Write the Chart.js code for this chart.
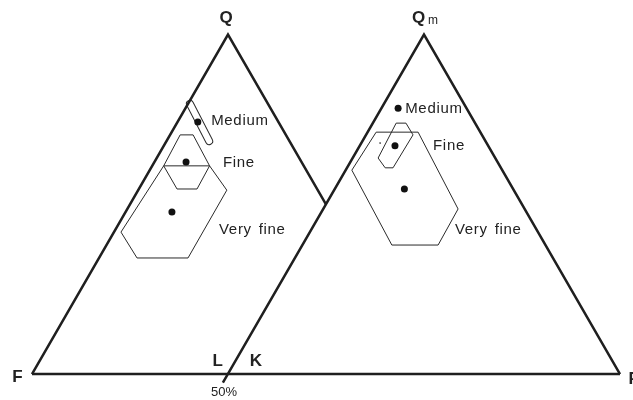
<!DOCTYPE html>
<html>
<head>
<meta charset="utf-8">
<script src="https://cdn.jsdelivr.net/npm/chart.js@4"></script>
<style>
  html, body { margin: 0; padding: 0; background: #fff; }
  #wrap { width: 633px; height: 400px; position: relative; }
</style>
</head>
<body>
<div id="wrap"><canvas id="tri"></canvas></div>
<script>
// ---- data (units: % of a triangle side, x along the base, y up) ----
// outlines of the two triangles: Q-F-L on the left, Qm-K-P on the right
const edgeQF = [[75, 43.3], [50, 86.6], [0, 0]];
const edgeQmKP = [[48.7, -2.2], [100, 86.6], [150, 0]];
const baseFP = [[0, 0], [150, 0]];

// left triangle (QFL) fields and means
const qflMediumAxis = [[40.3, 68.9], [45.2, 59.4]];
const qflFine = [[37.8, 61.0], [41.1, 61.0], [45.3, 53.1], [42.1, 47.2], [37.0, 47.2], [33.6, 53.1]];
const qflVeryFine = [[33.6, 53.1], [45.3, 53.1], [49.7, 46.9], [39.8, 29.6], [26.8, 29.6], [22.7, 36.2]];
const qflMeans = [[42.3, 64.3], [39.3, 54.1], [35.7, 41.3]];

// right triangle (QmKP) fields and means
const qmkpFine = [[92.9, 64.0], [95.4, 64.0], [97.2, 61.0], [92.1, 52.6], [90.1, 52.6], [88.3, 55.1]];
const qmkpVeryFine = [[87.8, 61.7], [98.5, 61.7], [108.7, 42.1], [103.6, 32.9], [91.8, 32.9], [81.6, 52.0]];
const qmkpMeans = [[93.4, 67.8], [92.6, 58.2], [95.0, 47.2]];
const qmkpStray = [[88.8, 58.9]];

const grainSizes = ['Medium', 'Fine', 'Very fine'];

// ---- helpers ----
const pts = arr => arr.map(p => ({ x: p[0], y: p[1] }));
const ring = arr => pts(arr.concat([arr[0]]));

const INK = '#1f1f1f';

function lineSet(data, width, order) {
  return {
    data: pts(data), showLine: true, pointRadius: 0, borderColor: INK,
    borderWidth: width, tension: 0, fill: false, order: order
  };
}
function polySet(data) {
  return {
    data: ring(data), showLine: true, pointRadius: 0, borderColor: '#2a2a2a',
    borderWidth: 1, tension: 0, fill: false, order: 3
  };
}
function dotSet(data, r) {
  return {
    data: pts(data), showLine: false, pointRadius: r, pointBorderWidth: 0,
    pointBackgroundColor: '#111', order: 1
  };
}

// text positions in the same units
const labelSpots = [
  { t: grainSizes[0], x: 45.7, y: 64.5 },
  { t: grainSizes[1], x: 48.7, y: 53.8 },
  { t: grainSizes[2], x: 47.7, y: 36.7 },
  { t: grainSizes[0], x: 95.2, y: 67.6 },
  { t: grainSizes[1], x: 102.3, y: 58.2 },
  { t: grainSizes[2], x: 107.9, y: 36.7 }
];
const poleSpots = [
  { t: 'Q', x: 49.5, y: 90.8 },
  { t: 'Q', x: 98.6, y: 90.8, sub: 'm' },
  { t: 'F', x: -3.7, y: -0.9 },
  { t: 'L', x: 47.4, y: 3.3 },
  { t: 'K', x: 57.1, y: 3.3 },
  { t: 'P', x: 153.6, y: -1.4 }
];

const textPlugin = {
  id: 'ternaryText',
  afterDatasetsDraw(chart) {
    const { ctx, scales } = chart;
    const px = v => scales.x.getPixelForValue(v);
    const py = v => scales.y.getPixelForValue(v);
    ctx.save();
    ctx.fillStyle = '#222';
    ctx.textBaseline = 'middle';

    // grain size labels, a little tracked out
    ctx.font = '15px "Liberation Sans", Arial, sans-serif';
    ctx.textAlign = 'left';
    ctx.letterSpacing = '0.7px';
    ctx.wordSpacing = '2px';
    labelSpots.forEach(l => ctx.fillText(l.t, px(l.x), py(l.y)));
    ctx.letterSpacing = '0px';
    ctx.wordSpacing = '0px';

    ctx.textAlign = 'center';
    poleSpots.forEach(l => {
      ctx.font = 'bold 17px "Liberation Sans", Arial, sans-serif';
      ctx.fillText(l.t, px(l.x), py(l.y));
      if (l.sub) {
        const w = ctx.measureText(l.t).width;
        ctx.font = '12px "Liberation Sans", Arial, sans-serif';
        ctx.textAlign = 'left';
        ctx.fillText(l.sub, px(l.x) + w / 2 + 3, py(l.y) + 3);
        ctx.textAlign = 'center';
      }
    });

    ctx.font = '13px "Liberation Sans", Arial, sans-serif';
    ctx.fillText('50%', px(49.0), py(-4.6));
    ctx.restore();
  }
};

new Chart(document.getElementById('tri'), {
  type: 'scatter',
  data: {
    datasets: [
      lineSet(edgeQF, 2.5, 2),
      lineSet(edgeQmKP, 2.5, 2),
      lineSet(baseFP, 2.5, 2),
      // medium field drawn as a rounded capsule: dark stroke with a white core
      Object.assign(lineSet(qflMediumAxis, 8, 5), { borderCapStyle: 'round', borderColor: '#2a2a2a' }),
      Object.assign(lineSet(qflMediumAxis, 6, 4), { borderCapStyle: 'round', borderColor: '#fff' }),
      polySet(qflFine),
      polySet(qflVeryFine),
      polySet(qmkpFine),
      polySet(qmkpVeryFine),
      dotSet(qflMeans, 3.5),
      dotSet(qmkpMeans, 3.5),
      dotSet(qmkpStray, 0.8)
    ]
  },
  options: {
    responsive: true,
    maintainAspectRatio: false,
    animation: false,
    layout: { padding: 0, autoPadding: false },
    plugins: { legend: { display: false }, tooltip: { enabled: false } },
    scales: {
      x: { type: 'linear', display: false, min: -8.16, max: 153.32 },
      y: { type: 'linear', display: false, min: -6.63, max: 95.41 }
    }
  },
  plugins: [textPlugin]
});
</script>
</body>
</html>
